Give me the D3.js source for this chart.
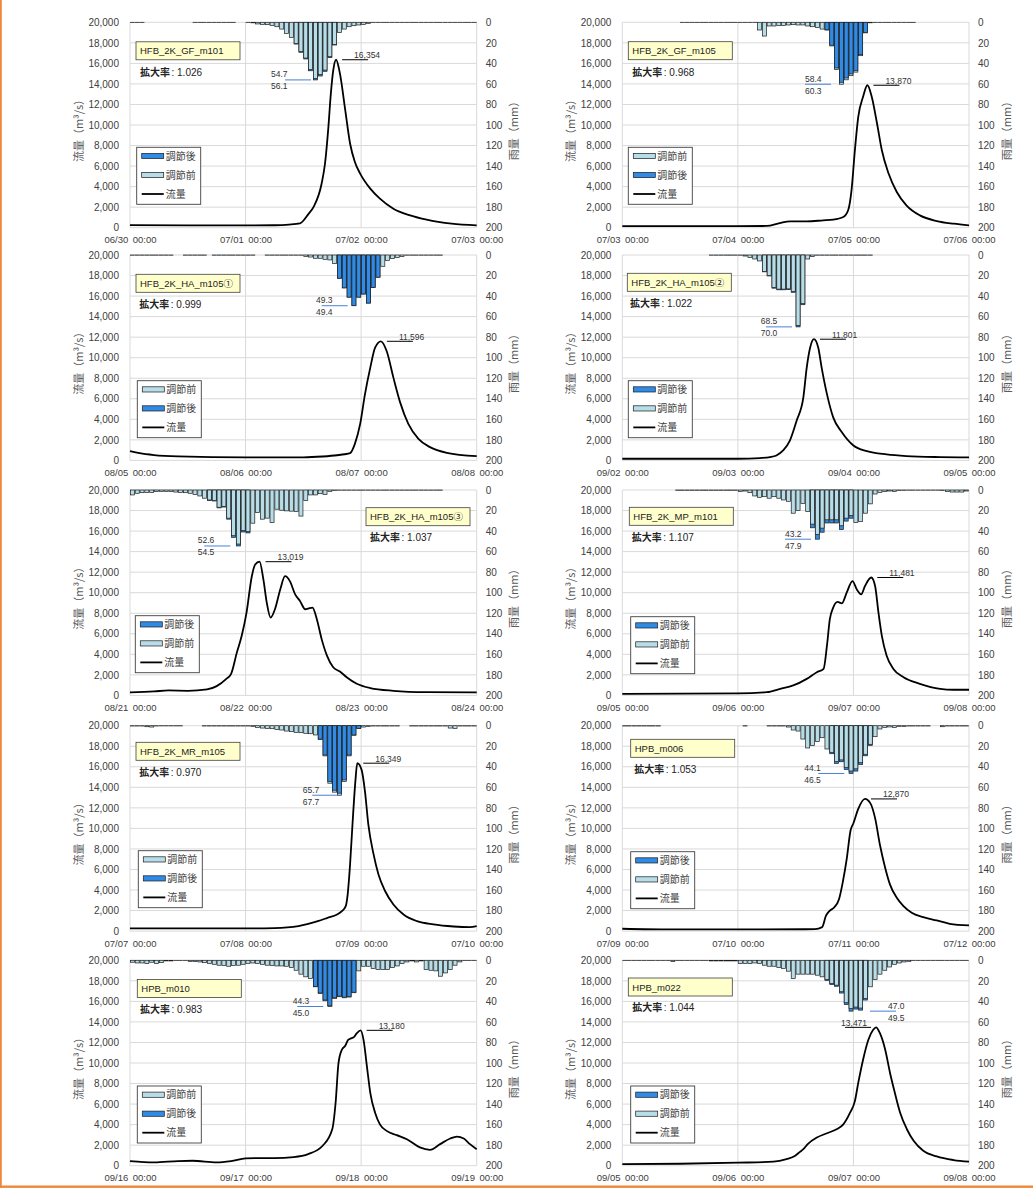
<!DOCTYPE html>
<html><head><meta charset="utf-8">
<script src="https://cdn.jsdelivr.net/npm/d3@7"></script>
<style>
body{margin:0;background:#fff;}
svg{display:block;}
</style></head><body>
<svg id="chart" width="1033" height="1192"></svg>
<script>
// ---------------- DATA ----------------
const names = ["HFB_2K_GF_m101","HFB_2K_GF_m105","HFB_2K_HA_m105①","HFB_2K_HA_m105②","HFB_2K_HA_m105③",
               "HFB_2K_MP_m101","HFB_2K_MR_m105","HPB_m006","HPB_m010","HPB_m022"];
const factors = ["1.026","0.968","0.999","1.022","1.037","1.107","0.970","1.053","0.983","1.044"];
const dayLabels = [
 ["06/30","07/01","07/02","07/03"],["07/03","07/04","07/05","07/06"],
 ["08/05","08/06","08/07","08/08"],["09/02","09/03","09/04","09/05"],
 ["08/21","08/22","08/23","08/24"],["09/05","09/06","09/07","09/08"],
 ["07/07","07/08","07/09","07/10"],["07/09","07/10","07/11","07/12"],
 ["09/16","09/17","09/18","09/19"],["09/05","09/06","09/07","09/08"]];
const legendOrders = [["after","before"],["before","after"],["before","after"],["after","before"],["after","before"],
                      ["after","before"],["before","after"],["after","before"],["before","after"],["after","before"]];
const seriesNames = {after:"調節後", before:"調節前", flow:"流量"};
const flowTicks = [0,2000,4000,6000,8000,10000,12000,14000,16000,18000,20000];
const rainTicks = [0,20,40,60,80,100,120,140,160,180,200];

// hourly rainfall before adjustment (mm), hours 0..71
const rainBefore1 = [0.3,0.3,0.3,0,0,0,0,0,0,0,0,0,0,0.2,0.2,0.2,0.2,0.2,0.2,0.2,0.2,0.2,0,0,
 0.3,0.5,1.6,2.0,2.3,3.0,4.3,6.6,10.8,14.8,20.7,28.5,34.8,46.0,54.7,51.0,46.5,33.5,21.5,10.0,6.6,4.3,3.3,2.6,
 2.0,1.0,0.2,0.2,0.2,0.2,0.2,0.2,0.2,0.2,0.2,0.2,0.2,0.2,0.2,0.2,0.2,0.2,0.2,0.2,0.2,0.2,0.2,0.2];
const rainBefore2 = [0,0,0,0,0,0,0,0,0,0,0,0,0.2,0.2,0.2,0.2,0.2,0.2,0.2,0.2,0.2,0.2,0.2,0.2,
 0.2,0.2,0.2,0.3,7.5,13.4,3.6,3.6,3.0,3.0,2.6,2.3,2.6,2.6,3.6,4.3,5.2,6.6,7.5,23.0,46.0,60.3,56.0,52.0,
 48.5,32.5,10.3,0.5,0.2,0.2,0.2,0.2,0.2,0.2,0.2,0.2,0.2,0,0,0,0,0,0,0,0,0,0,0];
const rainBefore3 = [0.2,0.2,0.2,0.2,0.2,0.2,0.2,0.2,0.2,0,0,0.2,0.2,0.2,0.2,0.2,0,0.2,0.2,0.2,0.2,0.2,0.2,0.2,
 0.2,0.2,0,0,0.2,0.2,0.2,0.2,0.2,0.2,0.2,0.2,1.3,2.0,3.2,3.2,4.2,4.8,8.4,22.6,32.0,41.0,49.4,41.0,
 38.0,46.8,31.6,21.6,11.0,5.2,3.5,2.3,1.6,0.2,0.2,0.2,0.2,0.2,0.2,0.2,0.2,0,0,0,0,0,0,0];
const rainBefore4 = [0,0,0,0,0,0,0,0,0,0,0,0,0,0,0,0,0,0,0.2,0.2,0.2,0.2,0.2,0.2,
 0.2,1.0,2.3,3.9,5.8,16.0,20.0,31.6,33.2,33.2,33.0,35.5,68.5,47.4,3.9,1.6,0.2,0.2,0.2,0.2,0.2,0.2,0.2,0.2,
 0.2,0.2,0.2,0.2,0,0,0,0,0,0,0,0,0,0,0,0,0,0,0,0,0,0,0,0];
const rainBefore5 = [4.8,3.2,2.6,2.3,2.3,1.6,1.3,1.3,1.6,2.0,2.3,2.6,3.2,4.5,5.8,8.0,9.7,10.3,16.8,16.0,27.4,44.5,52.6,39.4,
 40.3,32.3,22.0,28.4,27.4,31.6,18.7,19.7,20.3,20.6,21.0,25.4,10.3,4.8,4.8,3.6,4.5,1.3,0.6,0.2,0.2,0.2,0.2,0.2,
 0.2,0.2,0.2,0.2,0.2,0.2,0.2,0.2,0.2,0.2,0.2,0.2,0.2,0.2,0.2,0.2,0.2,0,0,0,0,0,0,0];
const rainBefore6 = [0,0,0,0,0,0,0,0,0,0,0,0.3,0.3,0.3,0.3,0.3,0.3,0.3,0.3,0.3,0.3,0.3,0.3,0.3,
 1.6,1.0,2.6,5.8,7.1,6.5,8.0,6.5,8.0,9.7,11.0,22.6,20.0,13.0,21.0,33.2,43.2,37.1,29.0,29.0,29.0,34.8,27.4,24.8,
 31.6,30.6,22.6,13.5,3.9,2.3,1.6,1.0,1.3,0.6,0.3,0.2,0.2,0.2,0.2,0.2,0.2,0.2,0.6,1.6,2.0,2.0,2.0,1.0];
const rainBefore7 = [0.3,0.3,0.3,1.0,1.3,0.3,0.2,0.2,0.2,0.2,0.2,0,0,0,0,0.3,0.3,0.3,0.3,0.3,0.3,0.3,0.3,0.3,
 0.3,0.6,1.6,2.3,2.6,2.9,3.6,4.2,5.2,5.8,6.5,6.8,7.4,7.8,9.0,13.4,29.4,56.0,64.7,67.7,54.4,29.4,9.3,2.7,
 1.3,0.6,0.3,0.3,0.3,0.3,0.3,0.3,0,0,0.3,0.3,0.3,0.3,0.3,0.3,0.3,0.3,2.3,2.6,0.3,0.3,0.3,0.3];
const rainBefore8 = [0.3,0.3,0.3,0.3,0.3,0.3,0.3,0.3,0,0,0,0,0,0,0,0,0,0,0,0,0,0,0,0,
 0,0.3,0,0,0,0,0.3,0.3,0.3,0.3,1.3,4.2,5.2,13.0,21.7,19.4,15.5,11.7,22.7,25.9,34.9,33.3,40.5,44.1,
 42.0,36.0,27.8,18.1,10.7,3.2,1.6,1.2,1.6,0.6,0.6,0.3,0.3,0.3,0.3,0.3,0,0,1.0,0.3,0.3,0.3,0.3,0.3];
const rainBefore9 = [1.9,2.6,2.6,3.2,1.9,3.2,2.3,0.6,0.6,0.3,0.3,0.3,1.0,1.3,1.6,2.3,3.2,3.9,4.8,5.2,5.8,5.2,4.8,3.9,
 3.2,2.6,3.2,3.9,4.8,5.2,5.5,5.5,5.8,7.1,9.7,13.5,16.1,17.7,25.8,32.3,39.4,45.0,37.1,35.5,36.5,35.8,31.6,10.3,
 5.8,5.8,8.0,9.0,9.0,9.0,7.1,5.5,3.2,1.6,0.6,1.6,0.6,9.0,9.7,10.3,15.5,12.3,9.0,4.8,1.6,0.3,0.3,0.3];
const rainBefore10 = [0.3,0.3,0.3,0.3,0.3,0.3,0.3,0.3,0.3,0.3,1.3,0.3,0.3,0.3,0.3,0.3,0.3,0.3,0.6,0.6,0.6,0.6,0.6,0.6,
 3.2,3.2,3.2,2.6,3.2,4.8,5.8,5.8,7.1,8.0,10.6,17.7,13.5,13.5,13.5,13.5,14.5,16.1,18.7,22.6,24.2,30.6,41.3,47.0,
 45.5,46.5,37.1,25.8,18.7,13.5,9.7,6.5,3.9,2.6,1.6,1.0,0.3,0.3,0.3,0.3,0.3,0.3,0.3,0.3,0.3,0.3,0.3,0.3];

// rainfall after adjustment within the adjusted window: [hour, mm]
const rainAfter1 = [[34,21.2],[35,29.2],[36,35.7],[37,47.2],[38,56.1],[39,52.3],[40,47.7],[41,34.4],[42,22.1]];
const rainAfter2 = [[42,7.3],[43,22.3],[44,44.5],[45,58.4],[46,54.2],[47,50.3],[48,46.9],[49,31.5],[50,10.0]];
const rainAfter3 = [[43,22.6],[44,32.0],[45,41.0],[46,49.3],[47,41.0],[48,38.0],[49,46.8],[50,31.6],[51,21.6]];
const rainAfter4 = [[29,16.4],[30,20.4],[31,32.3],[32,33.9],[33,33.9],[34,33.7],[35,36.3],[36,70.0],[37,48.4]];
const rainAfter5 = [[16,10.1],[17,10.7],[18,17.4],[19,16.6],[20,28.4],[21,46.1],[22,54.5],[23,40.9],[24,41.8]];
const rainAfter6 = [[39,36.8],[40,47.9],[41,41.1],[42,32.1],[43,32.1],[44,32.1],[45,38.5],[46,30.3],[47,27.5]];
const rainAfter7 = [[39,13.0],[40,28.5],[41,54.3],[42,62.8],[43,65.7],[44,52.8],[45,28.5],[46,9.0],[47,2.6]];
const rainAfter8 = [[43,27.3],[44,36.7],[45,35.1],[46,42.6],[47,46.5],[48,44.2],[49,37.9],[50,29.3],[51,19.1]];
const rainAfter9 = [[38,25.4],[39,31.8],[40,38.7],[41,44.3],[42,36.5],[43,34.9],[44,35.9],[45,35.2],[46,31.1]];
const rainAfter10 = [[42,19.5],[43,23.6],[44,25.3],[45,31.9],[46,43.1],[47,49.5],[48,47.5],[49,48.5],[50,38.7]];

// discharge hydrographs: [hour, m3/s]
const flow1 = [[0,260],[12,230],[24,220],[30,240],[33,300],[35.3,420],[37,1300],[38.1,2000],[39.8,4300],[40.5,6250],[41.2,9800],[41.7,13000],[42.2,15300],[42.8,16354],[43.6,15000],[44.7,11450],[45.7,8200],[46.7,6400],[47.8,5270],[49.9,3800],[51.9,2830],[54.7,1850],[58.2,1200],[61.6,780],[66.8,390],[72,230]];
const flow2 = [[0,150],[24,150],[30,170],[32.7,450],[34.8,620],[38.3,620],[41.7,715],[43.8,780],[45.9,1040],[46.9,1700],[47.6,3640],[48.3,7545],[49,10800],[50,12750],[50.9,13870],[51.8,12750],[52.9,10150],[53.9,7545],[55.3,5270],[57,3480],[59,2180],[61.8,1200],[65.3,650],[68.8,390],[72,230]];
const flow3 = [[0,900],[2,700],[5,520],[10,390],[24,290],[36,300],[40,380],[43,500],[44.5,600],[45.7,700],[46.7,1610],[47.8,3550],[48.8,6450],[49.9,9030],[50.9,10970],[52.1,11596],[53.3,10650],[54.7,8060],[56.1,5650],[57.8,3550],[59.9,2100],[62.3,1290],[65.8,740],[72,420]];
const flow4 = [[0,160],[24,160],[28.6,230],[30.7,320],[32,480],[33.4,970],[34.8,1935],[36.2,3870],[37.6,6130],[38.3,9030],[39,10970],[39.8,11801],[40.7,10970],[41.4,9030],[42.5,6450],[43.8,4190],[45.6,2740],[48,1450],[50.8,900],[54.9,580],[59,420],[66,320],[72,290]];
const flow5 = [[0,290],[5,390],[8,480],[12,450],[16,580],[18,900],[20,1610],[21,2100],[22.2,4190],[23.2,5800],[24.2,8060],[25.3,11600],[26,12740],[26.9,13019],[27.7,11290],[28.4,9030],[29.2,7580],[30.1,8390],[31.2,10320],[32.2,11610],[33.2,11130],[34.3,9840],[35.3,9190],[36.4,8390],[37,8450],[37.9,8550],[38.8,7420],[39.8,5480],[40.9,3870],[42.2,2740],[43.6,2320],[45,1770],[47.1,1130],[49.9,710],[54.7,450],[61.6,320],[72,290]];
const flow6 = [[0,150],[24,200],[30,320],[32.8,640],[35.5,970],[38.3,1610],[40.4,2260],[41.8,2580],[42.5,4840],[43.1,7420],[43.8,8550],[44.7,9100],[45.6,8970],[46.6,10000],[47.8,11130],[48.7,10320],[49.6,9840],[50.4,10650],[51.7,11481],[52.5,10650],[53.2,8060],[53.9,5800],[54.9,3870],[56.3,2580],[58.4,1770],[61.8,1130],[66,640],[68.8,550],[72,550]];
const flow7 = [[0,260],[24,260],[30,290],[35,485],[37,710],[39,970],[41,1290],[43,1620],[44,1940],[44.8,2430],[45.2,3560],[45.7,6470],[46.2,10360],[46.8,14560],[47.2,16349],[48.1,15700],[48.8,13590],[49.5,10360],[50.6,7440],[51.6,5500],[53,3880],[54.7,2590],[56.8,1620],[59.6,970],[63,650],[67.2,450],[70.6,390],[72,485]];
const flow8 = [[0,230],[10,160],[24,160],[40,190],[41.5,390],[42.3,1500],[43,1950],[44,2300],[45,3100],[45.8,4800],[46.6,7000],[47.4,9800],[48,10500],[49,11900],[50.4,12870],[51.5,12460],[52.5,11000],[53.5,8410],[54.6,6150],[55.6,4530],[57,3240],[58.4,2430],[60.1,1780],[62.5,1360],[65.3,1040],[68,710],[72,550]];
const flow9 = [[0,450],[5,320],[10,450],[13,480],[18,320],[21,450],[24,710],[26,740],[30,740],[34,840],[37,1130],[40,1940],[42,3550],[42.7,6130],[43.3,10000],[44,11290],[44.7,11680],[45.3,12260],[46,12420],[46.5,12520],[47.1,12900],[47.9,13180],[48.5,12260],[49.2,9680],[49.9,7100],[50.9,5160],[51.9,4030],[53.3,3390],[55.4,2970],[57.5,2580],[60.2,1780],[62.3,1550],[64.4,2100],[66.5,2650],[67.9,2840],[69.3,2650],[70.6,2100],[72,1610]];
const flow10 = [[0,160],[12,190],[24,290],[31.4,390],[34.1,645],[35.9,970],[36.9,1350],[37.6,1610],[38.5,2100],[40.4,2740],[42.5,3160],[44.5,3550],[45.9,4030],[47.3,5160],[48.3,6290],[49,8060],[50,10320],[51.1,12260],[52.1,13230],[52.7,13471],[53.5,12900],[54.6,11290],[55.6,9030],[56.6,7100],[57.7,5160],[59.1,3550],[60.5,2420],[62.5,1450],[65.3,900],[68.8,550],[72,390]];

// ---------------- LAYOUT ----------------
const colLeft = [130, 622.3], plotW = 346.7;
const rowTop = [22.3, 255, 490, 725.7, 960.3], plotH = 205.4;
const nameBoxPos = [[6,19.5],[6,19.4],[6,19.3],[5,18.3],[236,17.7],[7,17.3],[6,16.6],[8.4,13.6],[7.3,19.3],[6,17.7]];
const factorPos  = [[10,49.4],[10,49.4],[9.3,49],[7.7,47.7],[240,46.7],[9.4,46.7],[9.3,46],[12,43.6],[10,49],[10,47.3]];
const legendPos  = [[6.7,125],[6,125],[7.3,125.7],[6,125.7],[5.3,125.7],[8.4,126.7],[8.3,125],[8.4,126],[7.3,125.7],[8.4,125.7]];
const rainLblX   = [155,182.7,191.7,143.7,74.3,162.7,182.3,196,167.3,247.7];
const rainTxtDx  = [-14,0,-5.7,-5.3,-6.6,0,-9.6,-14,-4.6,18];
const flowLblSide = ["r","r","r","r","r","r","r","r","r","l"];

const rainBefore = [rainBefore1,rainBefore2,rainBefore3,rainBefore4,rainBefore5,rainBefore6,rainBefore7,rainBefore8,rainBefore9,rainBefore10];
const rainAfter = [rainAfter1,rainAfter2,rainAfter3,rainAfter4,rainAfter5,rainAfter6,rainAfter7,rainAfter8,rainAfter9,rainAfter10];
const flows = [flow1,flow2,flow3,flow4,flow5,flow6,flow7,flow8,flow9,flow10];

const NUMF = "'Liberation Sans', Arial, 'Noto Sans CJK JP', sans-serif";
const JPF = "'Noto Sans CJK JP', 'Liberation Sans', sans-serif";
const C = {before:"#b7dee8", after:"#2f8be6", grid:"#d9d9d9", text:"#404040", title:"#595959"};

const svg = d3.select("#chart");
svg.append("rect").attr("width",1033).attr("height",1192).attr("fill","#fff");

const fmtComma = d3.format(",");
const fmt1 = d3.format(".1f");

names.forEach((name,i)=>{
  const col = i%2, row = Math.floor(i/2);
  const x0 = colLeft[col], y0 = rowTop[row];
  const x = d3.scaleLinear().domain([0,72]).range([x0, x0+plotW]);
  const yF = d3.scaleLinear().domain([0,20000]).range([y0+plotH, y0]);
  const yR = d3.scaleLinear().domain([0,200]).range([y0, y0+plotH]);
  const g = svg.append("g");

  // grid
  g.append("g").selectAll("line").data(flowTicks).join("line")
    .attr("x1",x0).attr("x2",x0+plotW).attr("y1",d=>yF(d)).attr("y2",d=>yF(d))
    .attr("stroke",C.grid).attr("stroke-width",1);
  g.append("g").selectAll("line").data([0,24,48,72]).join("line")
    .attr("x1",d=>x(d)).attr("x2",d=>x(d)).attr("y1",y0).attr("y2",y0+plotH)
    .attr("stroke",C.grid).attr("stroke-width",1);

  // bars
  const series = {before: rainBefore[i].map((v,h)=>[h,v]), after: rainAfter[i]};
  legendOrders[i].forEach(key=>{
    g.append("g").selectAll("rect").data(series[key].filter(d=>d[1]>0)).join("rect")
      .attr("x",d=>x(d[0])+0.4).attr("width",d=>x(d[0]+1)-x(d[0])-0.8)
      .attr("y",y0).attr("height",d=>yR(d[1])-y0)
      .attr("fill",C[key]).attr("stroke","#1c1c1c").attr("stroke-width",0.7);
  });

  // flow line
  g.append("path").datum(flows[i])
    .attr("d", d3.line().x(d=>x(d[0])).y(d=>yF(d[1])).curve(d3.curveMonotoneX))
    .attr("fill","none").attr("stroke","#000").attr("stroke-width",1.8);

  // axes
  const ax = g.append("g").attr("transform",`translate(${x0},0)`)
    .call(d3.axisLeft(yF).tickValues(flowTicks).tickFormat(fmtComma).tickSize(0).tickPadding(11));
  const axR = g.append("g").attr("transform",`translate(${x0+plotW},0)`)
    .call(d3.axisRight(yR).tickValues(rainTicks).tickSize(0).tickPadding(9));
  const axB = g.append("g").attr("transform",`translate(0,${y0+plotH})`)
    .call(d3.axisBottom(x).tickValues([0,24,48,72]).tickFormat((d,j)=>dayLabels[i][j]+"\u00a0\u200900:00").tickSize(0).tickPadding(9));
  [ax,axR,axB].forEach(a=>{
    a.select(".domain").remove();
    a.selectAll("text").attr("font-family",NUMF).attr("font-size",10).attr("fill",C.text);
  });
  axB.selectAll("text").attr("font-size",9.5);

  // axis titles
  g.append("text").attr("transform",`translate(${x0-52.5},${y0+plotH/2+3}) rotate(-90)`)
    .attr("text-anchor","middle").attr("dominant-baseline","central")
    .attr("font-family",JPF).attr("font-size",11).attr("fill",C.title).text("流量（m³/s）");
  g.append("text").attr("transform",`translate(${x0+plotW+36.5},${y0+plotH/2+3}) rotate(-90)`)
    .attr("text-anchor","middle").attr("dominant-baseline","central")
    .attr("font-family",JPF).attr("font-size",11).attr("fill",C.title).text("雨量（mm）");

  // rain peak labels
  const maxB = d3.max(rainBefore[i]), maxA = d3.max(rainAfter[i], d=>d[1]);
  const lo = Math.min(maxB,maxA), hi = Math.max(maxB,maxA);
  const ly = yR(hi), lx = x0 + rainLblX[i];
  g.append("line").attr("x1",lx).attr("x2",lx+26).attr("y1",ly).attr("y2",ly)
    .attr("stroke","#4a7fd6").attr("stroke-width",1);
  g.append("text").attr("x",lx+rainTxtDx[i]).attr("y",ly-2.5).attr("font-family",NUMF)
    .attr("font-size",8.5).attr("fill","#333").text(fmt1(lo));
  g.append("text").attr("x",lx+rainTxtDx[i]).attr("y",ly+9.5).attr("font-family",NUMF)
    .attr("font-size",8.5).attr("fill","#333").text(fmt1(hi));

  // flow peak label
  const pk = d3.greatest(flows[i], d=>d[1]);
  const px = x(pk[0]), py = yF(pk[1]);
  const fs = flowLblSide[i]==="r" ? px+6 : px-31;
  g.append("line").attr("x1",fs).attr("x2",fs+26).attr("y1",py).attr("y2",py)
    .attr("stroke","#000").attr("stroke-width",1);
  g.append("text").attr("x", flowLblSide[i]==="r" ? fs+12 : fs-4).attr("y",py-1.5)
    .attr("font-family",NUMF).attr("font-size",8.5).attr("fill","#333").text(fmtComma(pk[1]));

  // name box
  const nb = nameBoxPos[i];
  g.append("rect").attr("x",x0+nb[0]).attr("y",y0+nb[1]).attr("width",104).attr("height",18)
    .attr("fill","#ffffcc").attr("stroke","#404040").attr("stroke-width",0.8);
  g.append("text").attr("x",x0+nb[0]+4).attr("y",y0+nb[1]+12.5)
    .attr("font-family",NUMF).attr("font-size",9.5).attr("fill","#222").text(name);

  // factor text
  const fp = factorPos[i];
  const ft = g.append("text").attr("x",x0+fp[0]).attr("y",y0+fp[1]+3.8)
    .attr("font-family",JPF).attr("font-size",10).attr("fill","#222");
  ft.append("tspan").attr("font-weight",700).text("拡大率");
  ft.append("tspan").attr("font-family",NUMF).attr("font-size",10).attr("dx",1.5).text(": " + factors[i]);

  // legend
  const lp = legendPos[i];
  const lgx = x0+lp[0], lgy = y0+lp[1];
  g.append("rect").attr("x",lgx).attr("y",lgy).attr("width",64).attr("height",57)
    .attr("fill","#fff").attr("stroke","#404040").attr("stroke-width",0.9);
  const items = legendOrders[i].concat(["flow"]);
  items.forEach((k,j)=>{
    const iy = lgy + 8.7 + j*19;
    if(k==="flow"){
      g.append("line").attr("x1",lgx+5).attr("x2",lgx+27).attr("y1",iy).attr("y2",iy)
        .attr("stroke","#000").attr("stroke-width",1.8);
    } else {
      g.append("rect").attr("x",lgx+5).attr("y",iy-2.6).attr("width",22).attr("height",5.2)
        .attr("fill",C[k]).attr("stroke","#1c1c1c").attr("stroke-width",0.7);
    }
    g.append("text").attr("x",lgx+29).attr("y",iy+3.6)
      .attr("font-family",JPF).attr("font-size",10).attr("fill",C.text).text(seriesNames[k]);
  });
});

// orange frame
svg.append("rect").attr("x",0).attr("y",0).attr("width",1.8).attr("height",1188).attr("fill","#f0883c");
svg.append("rect").attr("x",0).attr("y",1185.5).attr("width",1033).attr("height",2.4).attr("fill","#f0883c");
</script>
</body></html>
